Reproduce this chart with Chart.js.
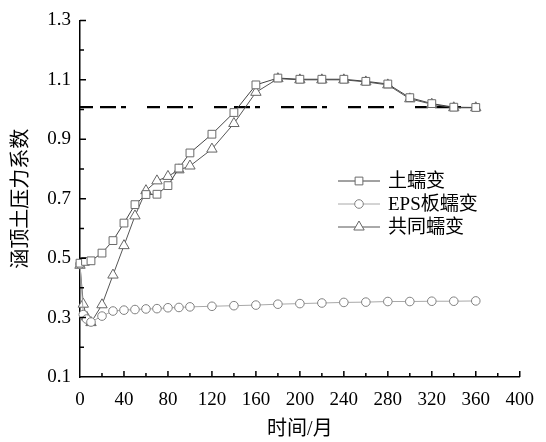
<!DOCTYPE html>
<html>
<head>
<meta charset="utf-8">
<script src="https://cdn.jsdelivr.net/npm/chart.js@4.4.1/dist/chart.umd.min.js"></script>
<style>
  html, body { margin: 0; padding: 0; background: #fff; }
  #wrap { width: 546px; height: 442px; position: relative; }
</style>
</head>
<body>
<div id="wrap"><canvas id="chart" width="546" height="442"></canvas></div>
<script>
// values
const soilX = [0, 5, 10, 20, 30, 40, 50, 60, 70, 80, 90, 100, 120, 140, 160, 180, 200, 220, 240, 260, 280, 300, 320, 340, 360];
const soilY = [0.483, 0.489, 0.491, 0.517, 0.559, 0.618, 0.68, 0.714, 0.715, 0.744, 0.803, 0.854, 0.917, 0.99, 1.083, 1.106, 1.102, 1.102, 1.102, 1.095, 1.086, 1.04, 1.02, 1.008, 1.007];

const epsX = [0, 3, 6, 10, 20, 30, 40, 50, 60, 70, 80, 90, 100, 120, 140, 160, 180, 200, 220, 240, 260, 280, 300, 320, 340, 360];
const epsY = [0.48, 0.31, 0.295, 0.285, 0.305, 0.322, 0.325, 0.327, 0.329, 0.33, 0.333, 0.334, 0.336, 0.338, 0.34, 0.342, 0.345, 0.347, 0.349, 0.351, 0.352, 0.354, 0.354, 0.355, 0.355, 0.356];

const bothX = [0, 3, 6, 10, 20, 30, 40, 50, 60, 70, 80, 90, 100, 120, 140, 160, 180, 200, 220, 240, 260, 280, 300, 320, 340, 360];
const bothY = [0.476, 0.345, 0.302, 0.283, 0.343, 0.443, 0.542, 0.642, 0.727, 0.76, 0.775, 0.797, 0.81, 0.867, 0.953, 1.058, 1.104, 1.1, 1.1, 1.1, 1.093, 1.083, 1.036, 1.018, 1.006, 1.006];

const refX = [0, 362];
const refY = [1.008, 1.008];

const seriesNames = ["土蠕变", "EPS板蠕变", "共同蠕变"];
const xTicks = [0, 40, 80, 120, 160, 200, 240, 280, 320, 360, 400];
const yTicks = [0.1, 0.3, 0.5, 0.7, 0.9, 1.1, 1.3];

const serif = "'Liberation Serif', 'Noto Sans CJK SC', serif";

function pts(xs, ys) {
    return xs.map((x, i) => ({ x: x, y: ys[i] }));
}

// inward ticks, like the original plot
const innerTicks = {
    id: "innerTicks",
    afterDraw(chart) {
        const ctx = chart.ctx;
        const xs = chart.scales.x, ys = chart.scales.y;
        const bottom = chart.chartArea.bottom, left = chart.chartArea.left;
        ctx.save();
        ctx.strokeStyle = "#000";
        ctx.lineWidth = 1.5;
        ctx.beginPath();
        for (let v = 20; v <= 400; v += 20) {
            const px = xs.getPixelForValue(v);
            const len = v % 40 === 0 ? 6 : 4;
            ctx.moveTo(px, bottom);
            ctx.lineTo(px, bottom - len);
        }
        for (let k = 2; k <= 13; k++) {
            const py = ys.getPixelForValue(k / 10);
            const len = k % 2 === 1 ? 6 : 4;
            ctx.moveTo(left, py);
            ctx.lineTo(left + len, py);
        }
        ctx.stroke();
        ctx.restore();
    }
};

// legend drawn as line-marker-line, like the original
const lineLegend = {
    id: "lineLegend",
    afterDraw(chart) {
        const ctx = chart.ctx;
        const x0 = 338, x1 = 380, tx = 388;
        const rows = [181, 204, 227];
        ctx.save();
        for (let i = 0; i < 3; i++) {
            const ds = chart.data.datasets[i];
            const y = rows[i];
            ctx.strokeStyle = ds.borderColor;
            ctx.lineWidth = 1;
            ctx.beginPath();
            ctx.moveTo(x0, y);
            ctx.lineTo(x1, y);
            ctx.stroke();
            ctx.fillStyle = ds.pointBackgroundColor;
            ctx.strokeStyle = ds.pointBorderColor;
            Chart.helpers.drawPoint(ctx, {
                pointStyle: ds.pointStyle,
                radius: ds.pointRadius,
                borderWidth: 1
            }, (x0 + x1) / 2, y);
            ctx.fillStyle = "#000";
            ctx.font = "19px " + serif;
            ctx.textBaseline = "middle";
            ctx.fillText(seriesNames[i], tx, y + 1);
        }
        ctx.restore();
    }
};

const ctx = document.getElementById("chart").getContext("2d");
const chart = new Chart(ctx, {
    type: "line",
    data: {
        datasets: [{
            label: seriesNames[0],
            data: pts(soilX, soilY),
            borderColor: "#444",
            borderWidth: 1,
            pointStyle: "rect",
            pointRadius: 5.5,
            pointBorderColor: "#6a6a6a",
            pointBackgroundColor: "#fff",
            pointBorderWidth: 1
        }, {
            label: seriesNames[1],
            data: pts(epsX, epsY),
            borderColor: "#a8a8a8",
            borderWidth: 1,
            pointStyle: "circle",
            pointRadius: 4.3,
            pointBorderColor: "#808080",
            pointBackgroundColor: "#fff",
            pointBorderWidth: 1
        }, {
            label: seriesNames[2],
            data: pts(bothX, bothY),
            borderColor: "#555",
            borderWidth: 1,
            pointStyle: "triangle",
            pointRadius: 6,
            pointBorderColor: "#666",
            pointBackgroundColor: "#fff",
            pointBorderWidth: 1
        }, {
            label: "ref",
            data: pts(refX, refY),
            borderColor: "#000",
            borderWidth: 2.2,
            borderDash: [13, 7, 16, 5, 5, 21],
            pointRadius: 0
        }]
    },
    options: {
        responsive: false,
        animation: false,
        clip: false,
        layout: { padding: { left: 0, right: 19, top: 14, bottom: 0 } },
        plugins: {
            legend: { display: false },
            tooltip: { enabled: false }
        },
        scales: {
            x: {
                type: "linear",
                min: 0,
                max: 400,
                afterFit: (s) => { s.height = 65; },
                afterBuildTicks: (s) => { s.ticks = xTicks.map(v => ({ value: v })); },
                grid: { display: false, drawTicks: false },
                border: { display: true, color: "#000", width: 1.5 },
                ticks: {
                    padding: 12,
                    color: "#000",
                    font: { family: serif, size: 19 },
                    maxRotation: 0,
                    autoSkip: false
                },
                title: {
                    display: true,
                    text: "时间/月",
                    color: "#000",
                    font: { family: serif, size: 20 },
                    padding: { top: -4, bottom: 0 }
                }
            },
            y: {
                type: "linear",
                min: 0.1,
                max: 1.3,
                afterFit: (s) => { s.width = 80; },
                afterBuildTicks: (s) => { s.ticks = yTicks.map(v => ({ value: v })); },
                grid: { display: false, drawTicks: false },
                border: { display: true, color: "#000", width: 1.5 },
                ticks: {
                    padding: 9,
                    color: "#000",
                    font: { family: serif, size: 19 },
                    callback: (v) => v.toFixed(1)
                },
                title: {
                    display: true,
                    text: "涵顶土压力系数",
                    color: "#000",
                    font: { family: serif, size: 20 },
                    padding: { top: 10, bottom: 0 }
                }
            }
        }
    },
    plugins: [innerTicks, lineLegend]
});
</script>
</body>
</html>
